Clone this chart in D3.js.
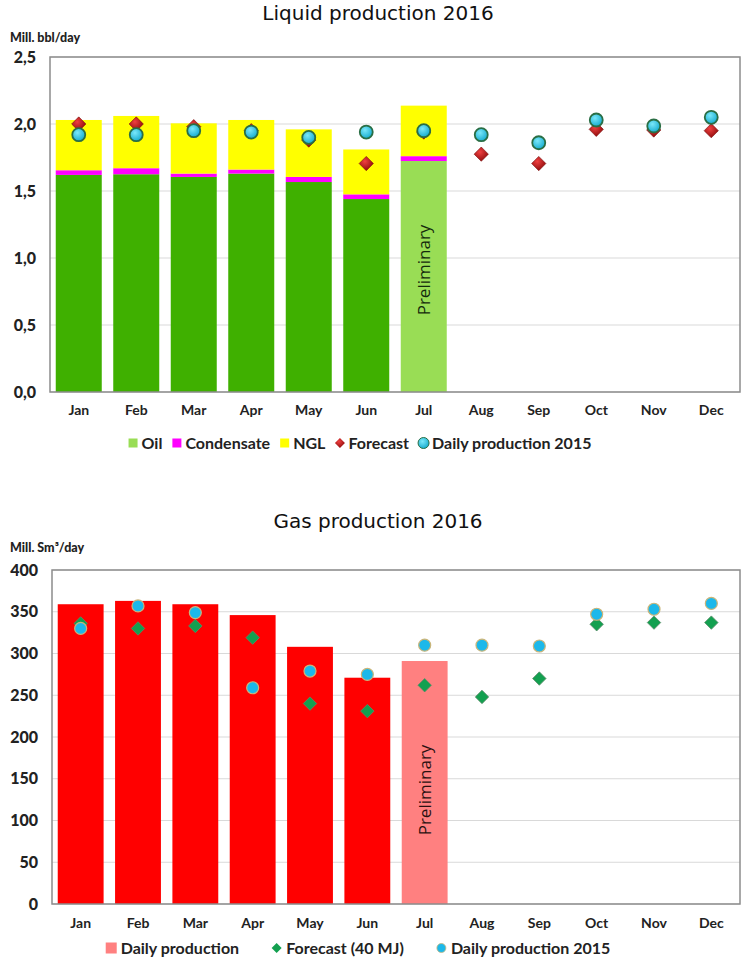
<!DOCTYPE html>
<html>
<head>
<meta charset="utf-8">
<script src="https://cdn.jsdelivr.net/npm/d3@7"></script>
<style>
  html, body { margin: 0; padding: 0; background: #fff; }
  svg { display: block; }
</style>
</head>
<body>
<svg id="chart" width="750" height="964"></svg>
<script>
// ---------- DATA ----------
const months = ["Jan","Feb","Mar","Apr","May","Jun","Jul","Aug","Sep","Oct","Nov","Dec"];

// Liquid production 2016 (mill. bbl/day)
const oil        = [1.620, 1.625, 1.605, 1.630, 1.567, 1.440, 1.724];
const condensate = [0.035, 0.045, 0.025, 0.030, 0.038, 0.035, 0.036];
const ngl        = [0.375, 0.390, 0.375, 0.370, 0.355, 0.335, 0.377];
const liquidForecast = [2.00, 2.00, 1.98, 1.95, 1.88, 1.705, 1.94, 1.775, 1.705, 1.96, 1.955, 1.95];
const liquid2015     = [1.92, 1.92, 1.95, 1.94, 1.90, 1.94, 1.95, 1.92, 1.86, 2.03, 1.985, 2.05];
const liquidTicks = [0, 0.5, 1.0, 1.5, 2.0, 2.5];

// Gas production 2016 (mill. Sm3/day)
const gas         = [359, 363, 359, 346, 308, 271, 291];
const gasForecast = [336, 330, 333, 319, 240, 231, 262, 248, 270, 335, 337, 337];
const gas2015     = [330, 357, 349, 259, 279, 275, 310, 310, 309, 347, 353, 360];
const gasTicks = [0, 50, 100, 150, 200, 250, 300, 350, 400];

const preliminaryIndex = 6; // Jul

// ---------- SETUP ----------
const svg = d3.select("#chart");
const defs = svg.append("defs");

function radial(id, c0, c1) {
  const g = defs.append("radialGradient").attr("id", id)
    .attr("cx", "40%").attr("cy", "35%").attr("r", "70%");
  g.append("stop").attr("offset", "0%").attr("stop-color", c0);
  g.append("stop").attr("offset", "100%").attr("stop-color", c1);
}
radial("gDiamondRed", "#f04040", "#8a0808");
radial("gCircleCyan", "#7ae8fa", "#10a8cc");

const labelFont = "Lato, 'Open Sans', sans-serif";
const titleFont = "'DejaVu Sans', Verdana, sans-serif";

function drawPanel(cfg) {
  const x = d3.scaleBand().domain(months).range([cfg.x0, cfg.x1])
    .paddingInner(0.2).paddingOuter(0.1);
  const y = d3.scaleLinear().domain([0, cfg.ymax]).range([cfg.y0, cfg.y1]);

  // Title
  svg.append("text").attr("x", 378).attr("y", cfg.titleY)
    .attr("text-anchor", "middle")
    .style("font-family", titleFont).style("font-size", "20px").style("fill", "#111")
    .text(cfg.title);

  // Unit label
  svg.append("text").attr("x", 10).attr("y", cfg.unitY)
    .style("font-family", labelFont)
    .style("font-size", "12.5px").style("font-weight", "900").style("fill", "#222")
    .text(cfg.unit);

  // Gridlines
  const g = svg.append("g");
  g.selectAll("line.grid").data(cfg.ticks).join("line")
    .attr("x1", cfg.x0).attr("x2", cfg.x1)
    .attr("y1", d => y(d)).attr("y2", d => y(d))
    .attr("stroke", "#d9d9d9").attr("stroke-width", 1.2);

  // Y axis labels
  const yAxis = d3.axisLeft(y).tickValues(cfg.ticks).tickSize(0).tickPadding(0)
    .tickFormat(cfg.fmt);
  const ya = svg.append("g").attr("transform", `translate(${cfg.yLabelX},0)`).call(yAxis);
  ya.select(".domain").remove();
  ya.selectAll("text").style("font-family", labelFont).style("font-size", "16px")
    .style("font-weight", "900").style("fill", "#222");

  // X axis labels
  const xAxis = d3.axisBottom(x).tickSize(0).tickPadding(0);
  const xa = svg.append("g").attr("transform", `translate(0,${cfg.y0 + cfg.monthOff})`).call(xAxis);
  xa.select(".domain").remove();
  xa.selectAll("text").style("font-family", labelFont).style("font-size", "14px")
    .style("font-weight", "bold").style("fill", "#222");

  return { x, y };
}

// ---------- LIQUID ----------
{
  const cfg = {
    title: "Liquid production 2016", titleY: 20, unit: "Mill. bbl/day", unitY: 42,
    x0: 50, x1: 740, y0: 392, y1: 57, ymax: 2.5, ticks: liquidTicks, monthOff: 13,
    fmt: d => d3.format(".1f")(d).replace(".", ","), yLabelX: 36
  };
  const { x, y } = drawPanel(cfg);

  const rows = oil.map((o, i) => ({ month: months[i], oil: o, condensate: condensate[i], ngl: ngl[i] }));
  const stack = d3.stack().keys(["oil", "condensate", "ngl"])(rows);
  const colors = { oil: "#3fb000", condensate: "#ff00ff", ngl: "#ffff00" };
  const bars = svg.append("g");
  stack.forEach(layer => {
    bars.selectAll(null).data(layer).join("rect")
      .attr("x", d => x(d.data.month)).attr("width", x.bandwidth())
      .attr("y", d => y(d[1])).attr("height", d => y(d[0]) - y(d[1]))
      .attr("fill", (d, i) => (layer.key === "oil" && i === preliminaryIndex) ? "#99dd55" : colors[layer.key]);
  });

  // Preliminary
  const px = x(months[preliminaryIndex]) + x.bandwidth() / 2;
  svg.append("text").attr("transform", `translate(${px + 6},270) rotate(-90)`)
    .attr("text-anchor", "middle")
    .style("font-family", "'Open Sans', sans-serif").style("font-size", "17px").style("fill", "#142a0c")
    .text("Preliminary");

  // Forecast diamonds
  const dsym = d3.symbol().type(d3.symbolDiamond2).size(130);
  svg.append("g").selectAll("path").data(liquidForecast).join("path")
    .attr("d", dsym)
    .attr("transform", (d, i) => `translate(${x(months[i]) + x.bandwidth() / 2},${y(d)})`)
    .attr("fill", "url(#gDiamondRed)").attr("stroke", "#7a0a0a").attr("stroke-width", 0.6);

  // 2015 circles
  svg.append("g").selectAll("circle").data(liquid2015).join("circle")
    .attr("cx", (d, i) => x(months[i]) + x.bandwidth() / 2).attr("cy", d => y(d))
    .attr("r", 6.5)
    .attr("fill", "url(#gCircleCyan)").attr("stroke", "#2a6e44").attr("stroke-width", 1.8);

  // Plot border
  svg.append("rect").attr("x", cfg.x0).attr("y", cfg.y1)
    .attr("width", cfg.x1 - cfg.x0).attr("height", cfg.y0 - cfg.y1)
    .attr("fill", "none").attr("stroke", "#8c8c8c").attr("stroke-width", 1.5);

  // Legend
  const items = [
    { type: "rect", color: "#99dd55", label: "Oil" },
    { type: "rect", color: "#ff00ff", label: "Condensate" },
    { type: "rect", color: "#ffff00", label: "NGL" },
    { type: "diamond", label: "Forecast" },
    { type: "circle", label: "Daily production 2015" }
  ];
  drawLegend(items, 449, 360, 9, 10);
}

// ---------- GAS ----------
{
  const cfg = {
    title: "Gas production 2016", titleY: 528, unit: "Mill. Sm³/day", unitY: 552,
    x0: 52, x1: 740, y0: 904, y1: 570, ymax: 400, ticks: gasTicks, monthOff: 14,
    fmt: d => String(d), yLabelX: 38
  };
  const { x, y } = drawPanel(cfg);

  svg.append("g").selectAll("rect").data(gas).join("rect")
    .attr("x", (d, i) => x(months[i])).attr("width", x.bandwidth())
    .attr("y", d => y(d)).attr("height", d => y(0) - y(d))
    .attr("fill", (d, i) => i === preliminaryIndex ? "#ff8080" : "#ff0000");

  const px = x(months[preliminaryIndex]) + x.bandwidth() / 2;
  svg.append("text").attr("transform", `translate(${px + 6},790) rotate(-90)`)
    .attr("text-anchor", "middle")
    .style("font-family", "'Open Sans', sans-serif").style("font-size", "17px").style("fill", "#2a1010")
    .text("Preliminary");

  const dsym = d3.symbol().type(d3.symbolDiamond2).size(115);
  svg.append("g").selectAll("path").data(gasForecast).join("path")
    .attr("d", dsym)
    .attr("transform", (d, i) => `translate(${x(months[i]) + x.bandwidth() / 2},${y(d)})`)
    .attr("fill", "#13a050").attr("stroke", "#5b8a68").attr("stroke-width", 0.8);

  svg.append("g").selectAll("circle").data(gas2015).join("circle")
    .attr("cx", (d, i) => x(months[i]) + x.bandwidth() / 2).attr("cy", d => y(d))
    .attr("r", 6)
    .attr("fill", "#1cb8ea").attr("stroke", "#c9b57a").attr("stroke-width", 1.2);

  svg.append("rect").attr("x", cfg.x0).attr("y", cfg.y1)
    .attr("width", cfg.x1 - cfg.x0).attr("height", cfg.y0 - cfg.y1)
    .attr("fill", "none").attr("stroke", "#8c8c8c").attr("stroke-width", 1.5);

  const items = [
    { type: "rect", color: "#ff8080", label: "Daily production" },
    { type: "gdiamond", label: "Forecast (40 MJ)" },
    { type: "gcircle", label: "Daily production 2015" }
  ];
  drawLegend(items, 954, 358, 11, 32);
}

function drawLegend(items, yBase, cx, sw, gap) {
  const g = svg.append("g");
  let cursor = 0;
  items.forEach((it, i) => {
    const ig = g.append("g").attr("transform", `translate(${cursor},0)`);
    const cy = -6;
    if (it.type === "rect") {
      ig.append("rect").attr("x", 0).attr("y", cy - sw / 2).attr("width", sw).attr("height", sw).attr("fill", it.color);
    } else if (it.type === "diamond") {
      ig.append("path").attr("d", d3.symbol().type(d3.symbolDiamond2).size(64)())
        .attr("transform", `translate(${sw / 2},${cy})`).attr("fill", "url(#gDiamondRed)");
    } else if (it.type === "circle") {
      ig.append("circle").attr("cx", sw / 2).attr("cy", cy).attr("r", 5.5)
        .attr("fill", "url(#gCircleCyan)").attr("stroke", "#2a6e44").attr("stroke-width", 1);
    } else if (it.type === "gdiamond") {
      ig.append("path").attr("d", d3.symbol().type(d3.symbolDiamond2).size(64)())
        .attr("transform", `translate(${sw / 2},${cy})`).attr("fill", "#13a050");
    } else if (it.type === "gcircle") {
      ig.append("circle").attr("cx", sw / 2).attr("cy", cy).attr("r", 4.5)
        .attr("fill", "#1cb8ea").attr("stroke", "#c9b57a").attr("stroke-width", 0.8);
    }
    const t = ig.append("text").attr("x", sw + 4).attr("y", 0)
      .style("font-family", labelFont).style("font-size", "16px")
      .style("font-weight", "bold").style("fill", "#222").text(it.label);
    const w = t.node().getComputedTextLength();
    cursor += sw + 4 + w + gap;
  });
  const total = cursor - gap;
  g.attr("transform", `translate(${cx - total / 2},${yBase})`);
}
</script>
</body>
</html>
